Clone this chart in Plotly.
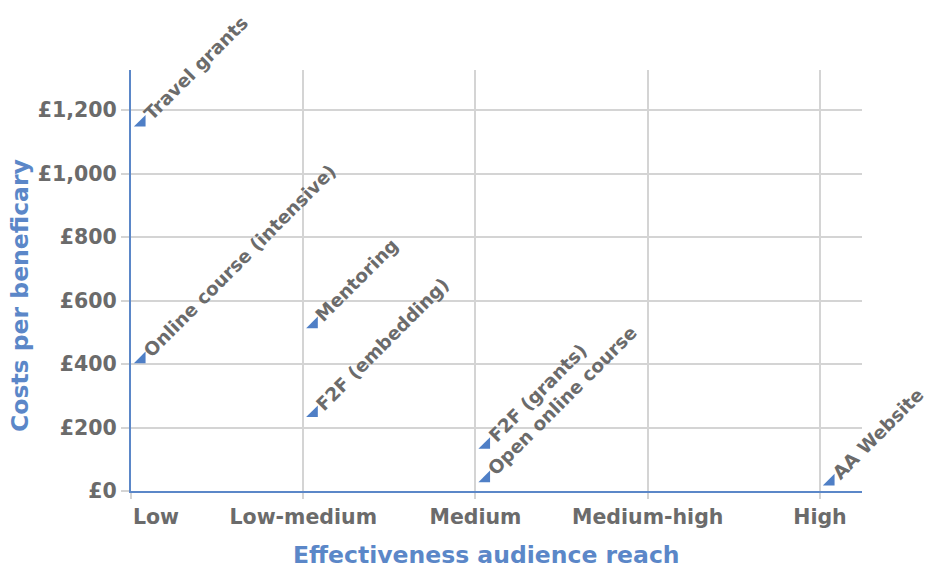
import plotly.graph_objects as go

# Reach categories on the x axis
reach_levels = ["Low", "Low-medium", "Medium", "Medium-high", "High"]

# Activities, their reach level and cost per beneficiary (GBP)
activities = [
    "Travel grants",
    "Online course (intensive)",
    "Mentoring",
    "F2F (embedding)",
    "F2F (grants)",
    "Open online course",
    "AA Website",
]
activity_reach = ["Low", "Low", "Low-medium", "Low-medium", "Medium", "Medium", "High"]
cost_per_beneficiary = [1160, 415, 525, 245, 145, 40, 30]

# Cost axis ticks
cost_ticks = [0, 200, 400, 600, 800, 1000, 1200]
cost_tick_labels = ["£0", "£200", "£400", "£600", "£800", "£1,000", "£1,200"]

x_title = "Effectiveness audience reach"
y_title = "Costs per beneficary"

BLUE = "#4f7fc6"
AXIS_BLUE = "#5b87c8"
GREY_TEXT = "#6b6b6b"
GRID = "#d4d4d4"
FONT = "DejaVu Sans"

W, H = 928, 571
M = dict(l=131, r=66, t=70, b=80)
PLOT_W = W - M["l"] - M["r"]
PLOT_H = H - M["t"] - M["b"]


def paper_xy(px, py):
    """Convert a pixel position on the page to paper coordinates."""
    return (px - M["l"]) / PLOT_W, (H - M["b"] - py) / PLOT_H


# points sit just to the right of their category line
POINT_NUDGE = 0.062
xpos = [reach_levels.index(r) + POINT_NUDGE for r in activity_reach]

fig = go.Figure()
fig.add_trace(
    go.Scatter(
        x=xpos,
        y=cost_per_beneficiary,
        mode="markers",
        marker=dict(symbol="triangle-se", size=13, color=BLUE, line=dict(width=0)),
        hoverinfo="text",
        text=activities,
        showlegend=False,
        cliponaxis=False,
    )
)

for name, x, y in zip(activities, xpos, cost_per_beneficiary):
    fig.add_annotation(
        x=x,
        y=y,
        text=name,
        showarrow=False,
        textangle=-45,
        xanchor="left",
        yanchor="bottom",
        xshift=-5,
        yshift=-4,
        font=dict(family=FONT, size=18.5, color=GREY_TEXT, weight="bold"),
    )

# axis titles
title_font = dict(family=FONT, size=23.5, color=AXIS_BLUE, weight="bold")
tx, ty = paper_xy(486, 555)
fig.add_annotation(
    x=tx, y=ty, xref="paper", yref="paper",
    xanchor="center", yanchor="middle",
    text=x_title, showarrow=False, font=title_font,
)
tx, ty = paper_xy(20, 295)
fig.add_annotation(
    x=tx, y=ty, xref="paper", yref="paper",
    xanchor="center", yanchor="middle", textangle=-90,
    text=y_title, showarrow=False, font=title_font,
)

# pad the first category label so it reads to the right of the axis
tick_text = list(reach_levels)
tick_text[0] = "\u00a0" * 7 + reach_levels[0]

fig.update_layout(
    width=W,
    height=H,
    margin=M,
    paper_bgcolor="white",
    plot_bgcolor="white",
    font=dict(family=FONT, size=20, color=GREY_TEXT, weight="bold"),
    xaxis=dict(
        range=[0, 4.244],
        tickvals=list(range(len(reach_levels))),
        ticktext=tick_text,
        showgrid=True,
        gridcolor=GRID,
        gridwidth=2,
        ticks="outside",
        ticklen=6,
        tickwidth=2,
        tickcolor=GRID,
        showline=True,
        linecolor=AXIS_BLUE,
        linewidth=2,
        zeroline=False,
        automargin=False,
        tickfont=dict(family=FONT, size=20.5, color=GREY_TEXT, weight="bold"),
        fixedrange=True,
    ),
    yaxis=dict(
        range=[0, 1326],
        tickvals=cost_ticks,
        ticktext=cost_tick_labels,
        showgrid=True,
        gridcolor=GRID,
        gridwidth=2,
        ticks="outside",
        ticklen=8,
        tickwidth=2,
        tickcolor=GRID,
        showline=True,
        linecolor=AXIS_BLUE,
        linewidth=2,
        zeroline=False,
        automargin=False,
        tickfont=dict(family=FONT, size=20.5, color=GREY_TEXT, weight="bold"),
        fixedrange=True,
    ),
)

fig.write_html("out.html")
